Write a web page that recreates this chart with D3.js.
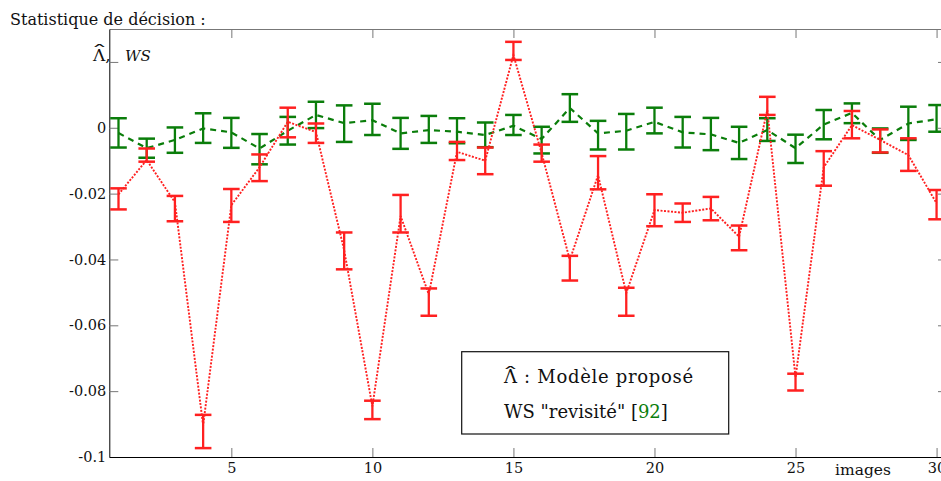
<!DOCTYPE html>
<html>
<head>
<meta charset="utf-8">
<script src="https://cdn.jsdelivr.net/npm/d3@7"></script>
<style>
  html, body { margin: 0; padding: 0; background: #fff; }
  svg { display: block; font-family: "DejaVu Serif", "Liberation Serif", serif; }
</style>
</head>
<body>
<svg id="chart" width="941" height="481"></svg>
<script>
// ---- data ----
const images = [1,2,3,4,5,6,7,8,9,10,11,12,13,14,15,16,17,18,19,20,21,22,23,24,25,26,27,28,29,30];

// Λ̂ : Modèle proposé (red)
const modelMean = [-0.0202,-0.0098,-0.0226,-0.0904,-0.0235,-0.0120,0.0018,-0.0013,-0.0372,-0.0846,
                   -0.0268,-0.0506,-0.0073,-0.0100,0.0221,-0.0077,-0.0402,-0.0144,-0.0502,-0.0250,
                   -0.0258,-0.0245,-0.0331,0.0054,-0.0758,-0.0120,0.0008,-0.0037,-0.0083,-0.0229];
const modelLow  = [-0.0248,-0.0103,-0.0284,-0.0973,-0.0286,-0.0162,-0.0029,-0.0046,-0.0430,-0.0885,
                   -0.0318,-0.0571,-0.0098,-0.0141,0.0206,-0.0103,-0.0464,-0.0187,-0.0571,-0.0299,
                   -0.0286,-0.0281,-0.0372,0.0039,-0.0798,-0.0176,-0.0032,-0.0075,-0.0131,-0.0278];
const modelHigh = [-0.0184,-0.0063,-0.0207,-0.0872,-0.0186,-0.0081,0.0061,0.0013,-0.0318,-0.0829,
                   -0.0204,-0.0488,-0.0043,-0.0060,0.0261,-0.0051,-0.0389,-0.0086,-0.0486,-0.0202,
                   -0.0230,-0.0210,-0.0297,0.0094,-0.0747,-0.0071,0.0051,-0.0005,-0.0032,-0.0189];

// WS "revisité" (green)
const wsMean = [-0.0016,-0.0062,-0.0037,-0.0002,-0.0014,-0.0063,-0.0009,0.0039,0.0014,0.0023,
                -0.0017,-0.0007,-0.0012,-0.0022,0.0006,-0.0034,0.0060,-0.0017,-0.0009,0.0018,
                -0.0014,-0.0020,-0.0046,-0.0007,-0.0062,0.0010,0.0045,-0.0037,0.0013,0.0026];
const wsLow  = [-0.0060,-0.0091,-0.0076,-0.0046,-0.0061,-0.0111,-0.0051,-0.0001,-0.0043,-0.0022,
                -0.0064,-0.0046,-0.0047,-0.0059,-0.0022,-0.0078,0.0018,-0.0066,-0.0066,-0.0017,
                -0.0060,-0.0068,-0.0095,-0.0040,-0.0107,-0.0035,0.0014,-0.0076,-0.0037,-0.0012];
const wsHigh = [0.0029,-0.0033,0.0001,0.0044,0.0030,-0.0019,0.0033,0.0079,0.0068,0.0073,
                0.0030,0.0036,0.0029,0.0016,0.0039,0.0003,0.0102,0.0021,0.0042,0.0061,
                0.0033,0.0030,0.0003,0.0029,-0.0021,0.0054,0.0074,-0.0002,0.0064,0.0069];

const xTicks = [5,10,15,20,25,30];
const yTicks = [0.02,0,-0.02,-0.04,-0.06,-0.08,-0.1];
const yTickLabels = ["", "0", "-0.02", "-0.04", "-0.06", "-0.08", "-0.1"];

const titleText = "Statistique de décision :";
const xLabel = "images";
const legendLine1 = "Λ : Modèle proposé";
const legendLine2a = "WS \"revisité\" [";
const legendLine2b = "92";
const legendLine2c = "]";

// ---- layout ----
const RED = "#ff2020", GREEN = "#0a7d0a", AXISGRAY = "#777";
const svg = d3.select("#chart");
const x = d3.scaleLinear().domain([0.674, 30.37]).range([109.3, 947]);
const y = d3.scaleLinear().domain([-0.1, 0.03]).range([457, 29]);

function hat(parent, cx, baseline, sx) {
  parent.append("text").attr("text-anchor", "middle").attr("font-size", 16).attr("fill", "#111")
    .attr("transform", `translate(${cx},${baseline}) scale(${sx},1)`).text("\u02C6");
}

// title
svg.append("text").attr("x", 10).attr("y", 25).attr("font-size", 16).attr("fill", "#111").text(titleText);

// axes: top & right (gray)
const gTop = svg.append("g").attr("transform", `translate(0,${y(0.03)})`)
  .call(d3.axisTop(x).tickValues(xTicks).tickSize(-9).tickSizeOuter(0).tickFormat(""));
gTop.select(".domain").attr("stroke", AXISGRAY);
gTop.selectAll(".tick line").attr("stroke", AXISGRAY);

const gRight = svg.append("g").attr("transform", `translate(${x(30.37)},0)`)
  .call(d3.axisRight(y).tickValues(yTicks).tickSize(-9).tickSizeOuter(0).tickFormat(""));
gRight.select(".domain").attr("stroke", AXISGRAY);
gRight.selectAll(".tick line").attr("stroke", AXISGRAY);

// left axis
const gLeft = svg.append("g").attr("transform", `translate(${x(0.674)},0)`)
  .call(d3.axisLeft(y).tickValues(yTicks).tickSize(-9).tickSizeOuter(0).tickPadding(3)
        .tickFormat((d, i) => yTickLabels[i]));
gLeft.select(".domain").attr("stroke", "#000");
gLeft.selectAll(".tick line").attr("stroke", AXISGRAY);
gLeft.selectAll(".tick text").attr("font-family", "DejaVu Serif").attr("font-size", 14.5).attr("fill", "#111");

// bottom axis
const gBottom = svg.append("g").attr("transform", `translate(0,${y(-0.1)})`)
  .call(d3.axisBottom(x).tickValues(xTicks).tickSize(-9).tickSizeOuter(0).tickFormat(d3.format("d")));
gBottom.select(".domain").attr("stroke", "#000");
gBottom.selectAll(".tick line").attr("stroke", AXISGRAY);
gBottom.selectAll(".tick text").attr("font-family", "DejaVu Serif").attr("font-size", 14.5)
  .attr("fill", "#111").attr("y", 16).attr("dy", 0);

// axis labels
svg.append("text").attr("x", 93).attr("y", 61).attr("font-size", 17).attr("fill", "#111").text("Λ,");
hat(svg, 99.5, 57, 2.1);
svg.append("text").attr("x", 125).attr("y", 61).attr("font-size", 15).attr("font-style", "italic").attr("fill", "#111").text("WS");
svg.append("text").attr("x", 835).attr("y", 475).attr("font-size", 15.5).attr("fill", "#111").text(xLabel);

// ---- series ----
const capHalf = 8.3;
function drawSeries(mean, low, high, color, dash, lw) {
  const g = svg.append("g");
  const line = d3.line().x((d, i) => x(images[i])).y(d => y(d));
  g.append("path").datum(mean).attr("d", line).attr("fill", "none")
    .attr("stroke", color).attr("stroke-width", lw).attr("stroke-dasharray", dash);
  const bars = g.selectAll("g.bar").data(images).join("g").attr("class", "bar");
  bars.append("line").attr("x1", d => x(d)).attr("x2", d => x(d))
    .attr("y1", (d, i) => y(low[i])).attr("y2", (d, i) => y(high[i]))
    .attr("stroke", color).attr("stroke-width", 2.3);
  bars.append("line").attr("x1", d => x(d) - capHalf).attr("x2", d => x(d) + capHalf)
    .attr("y1", (d, i) => y(low[i])).attr("y2", (d, i) => y(low[i]))
    .attr("stroke", color).attr("stroke-width", 2.5);
  bars.append("line").attr("x1", d => x(d) - capHalf).attr("x2", d => x(d) + capHalf)
    .attr("y1", (d, i) => y(high[i])).attr("y2", (d, i) => y(high[i]))
    .attr("stroke", color).attr("stroke-width", 2.5);
}
drawSeries(wsMean, wsLow, wsHigh, GREEN, "6,5", 2.2);
drawSeries(modelMean, modelLow, modelHigh, RED, "2,1.5", 1.9);

// ---- legend ----
const lg = svg.append("g");
lg.append("rect").attr("x", 461.7).attr("y", 351.7).attr("width", 267).attr("height", 82.3)
  .attr("fill", "#fff").attr("stroke", "#111").attr("stroke-width", 1.2);
lg.append("text").attr("x", 504).attr("y", 383).attr("font-size", 18).attr("letter-spacing", 0.7)
  .attr("fill", "#111").text(legendLine1);
hat(lg, 510.5, 379, 2.1);
const t2 = lg.append("text").attr("x", 504).attr("y", 418).attr("font-size", 18).attr("fill", "#111");
t2.append("tspan").text(legendLine2a);
t2.append("tspan").attr("fill", GREEN).text(legendLine2b);
t2.append("tspan").text(legendLine2c);
</script>
</body>
</html>
